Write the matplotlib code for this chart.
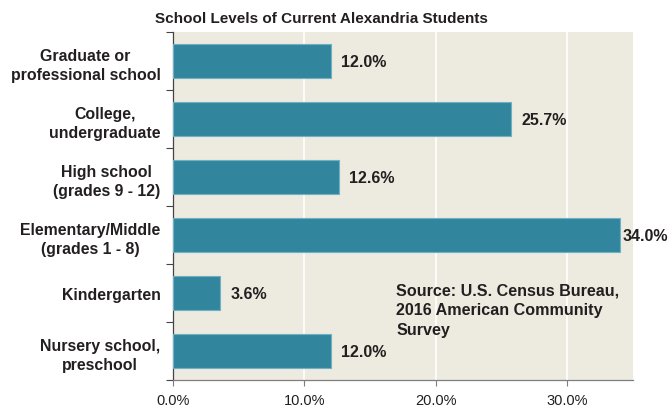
import matplotlib
matplotlib.use("Agg")
import matplotlib.pyplot as plt
from matplotlib.ticker import FixedLocator, FuncFormatter

plt.rcParams["font.family"] = ["Liberation Sans", "DejaVu Sans"]

# 資料
levels = [
    "Graduate or\nprofessional school",
    "College,\nundergraduate",
    "High school\n(grades 9 - 12)",
    "Elementary/Middle\n(grades 1 - 8)",
    "Kindergarten",
    "Nursery school,\npreschool",
]
shares = [12.0, 25.7, 12.6, 34.0, 3.6, 12.0]
x_ticks = [0, 10, 20, 30]
source_note = "Source: U.S. Census Bureau,\n2016 American Community\nSurvey"
title = "School Levels of Current Alexandria Students"

text_color = "#231F20"
bar_color = "#31869D"
bg_color = "#EDEAE0"

fig = plt.figure(figsize=(6.7, 4.1), dpi=100)
ax = fig.add_axes([0.2582, 0.0707, 0.6866, 0.8488])
ax.set_facecolor(bg_color)

ypos = list(range(len(levels)))
ax.barh(ypos, shares, height=0.6, color=bar_color, edgecolor="#6FB0C2",
        linewidth=0.8, zorder=3)

for y, v in zip(ypos, shares):
    # 最長的那條靠近右邊界，標籤貼近一點
    off = 2 if v > 30 else 7.5
    ax.annotate(f"{v:.1f}%", xy=(v, y), xytext=(off, 0), textcoords="offset points",
                ha="left", va="center", fontsize=11.5, fontweight="bold",
                color=text_color, zorder=4)

ax.set_xlim(0, 35)
ax.set_ylim(len(levels) - 0.5, -0.5)

# x 軸
ax.set_xticks(x_ticks)
ax.xaxis.set_major_formatter(FuncFormatter(lambda v, p: f"{v:.1f}%"))
ax.tick_params(axis="x", length=4, width=0.8, color="#7F7F7F", pad=5,
               labelsize=10.5, labelcolor=text_color)
ax.grid(axis="x", color="white", linewidth=1.2, zorder=1)

# y 軸：標籤在中間，刻度在分隔線
ax.set_yticks(ypos)
ax.set_yticklabels(levels, fontsize=11.4, fontweight="bold", color=text_color,
                   ha="right", multialignment="center", linespacing=1.4)
ax.tick_params(axis="y", which="major", length=0, pad=9)
ax.yaxis.set_minor_locator(FixedLocator([i - 0.5 for i in range(len(levels) + 1)]))
ax.tick_params(axis="y", which="minor", length=5, width=0.8, color="#444444")

for side in ["top", "right"]:
    ax.spines[side].set_visible(False)
ax.spines["left"].set_color("#444444")
ax.spines["left"].set_linewidth(0.9)
ax.spines["bottom"].set_color("#7F7F7F")
ax.spines["bottom"].set_linewidth(0.9)

ax.text(17.0, 3.82, source_note, ha="left", va="top", fontsize=11.6,
        fontweight="bold", color=text_color, linespacing=1.38, zorder=4)

fig.text(0.48, 0.954, title, ha="center", va="center", fontsize=11,
         fontweight="bold", color=text_color)

fig.savefig("out.png", dpi=100)
